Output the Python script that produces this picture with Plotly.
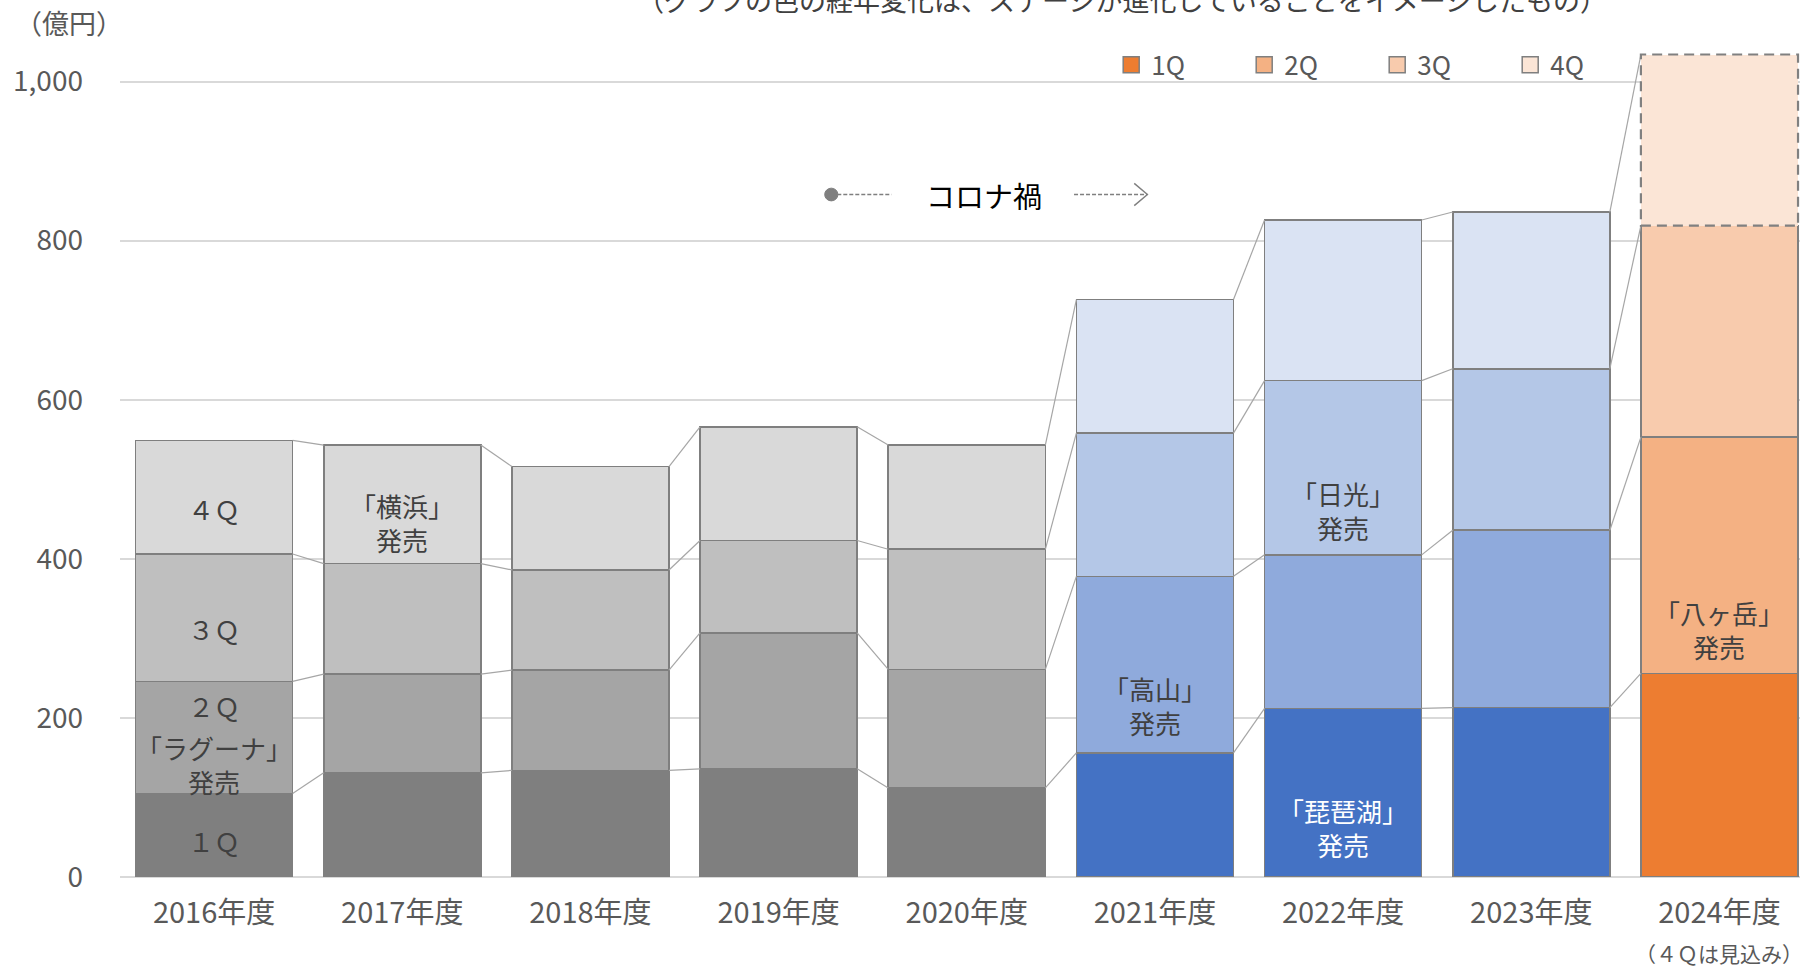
import plotly.graph_objects as go

# ---------------- data ----------------
years = ["2016年度", "2017年度", "2018年度", "2019年度", "2020年度",
         "2021年度", "2022年度", "2023年度", "2024年度"]
q1 = [105, 131, 134, 136, 112, 156, 212, 213, 256]
q2 = [141, 124, 126, 171, 149, 222, 193, 223, 297]
q3 = [160, 139, 126, 116, 151, 180, 219, 203, 266]
q4 = [143, 149, 130, 143, 131, 168, 202, 197, 215]
quarter_names = ["1Q", "2Q", "3Q", "4Q"]
era = ["gray", "gray", "gray", "gray", "gray", "blue", "blue", "blue", "orange"]

y_ticks = [0, 200, 400, 600, 800, 1000]
y_ticktext = ["0", "200", "400", "600", "800", "1,000"]

# in-bar notes: (year index, value-axis level, text, color)
notes = [
    (0, 463, "４Ｑ", "#404040"),
    (0, 312, "３Ｑ", "#404040"),
    (0, 216, "２Ｑ", "#404040"),
    (0, 141, "「ラグーナ」<br>発売", "#404040"),
    (0, 46, "１Ｑ", "#404040"),
    (1, 446, "「横浜」<br>発売", "#404040"),
    (5, 215, "「高山」<br>発売", "#404040"),
    (6, 461, "「日光」<br>発売", "#404040"),
    (6, 62, "「琵琶湖」<br>発売", "#ffffff"),
    (8, 311, "「八ヶ岳」<br>発売", "#404040"),
]

# ---------------- styles ----------------
palette = {
    "gray":   ["#7f7f7f", "#a5a5a5", "#bfbfbf", "#d9d9d9"],
    "blue":   ["#4472c4", "#8faadc", "#b4c7e7", "#dae3f3"],
    "orange": ["#ed7d31", "#f4b183", "#f8cbad", "#fbe5d6"],
}
FONT = "Noto Sans CJK JP"
TXT = "#595959"
BORDER = "#7f7f7f"
W = 0.835
NOTE_SIZE = 26

xs = list(range(len(years)))
series = [q1, q2, q3, q4]
n = len(years)

# cumulative tops
cums = []
run = [0] * n
for s in series:
    run = [a + b for a, b in zip(run, s)]
    cums.append(run)

fig = go.Figure()

for qi, s in enumerate(series):
    colors = [palette[e][qi] for e in era]
    lw = [1.6] * n
    if qi == 3:
        lw[-1] = 0  # forecast segment drawn with dashed outline
    fig.add_trace(go.Bar(
        x=xs, y=s, width=W, name=quarter_names[qi], showlegend=False,
        marker=dict(color=colors, line=dict(color=BORDER, width=lw)),
        hoverinfo="skip",
    ))

# connector lines
for c in cums:
    lx, ly = [], []
    for i in range(n - 1):
        lx += [i + W / 2, i + 1 - W / 2, None]
        ly += [c[i], c[i + 1], None]
    fig.add_trace(go.Scatter(x=lx, y=ly, mode="lines", showlegend=False,
                             line=dict(color="#a6a6a6", width=1.2), hoverinfo="skip"))

# legend-only entries (orange set)
for qi, name in enumerate(quarter_names):
    fig.add_trace(go.Scatter(
        x=[None], y=[None], mode="markers", name=name,
        marker=dict(symbol="square", size=16, color=palette["orange"][qi],
                    line=dict(color=BORDER, width=1.5)),
    ))

shapes = []
# dashed outline of forecast 4Q
shapes.append(dict(type="rect", xref="x", yref="y",
                   x0=n - 1 - W / 2, x1=n - 1 + W / 2, y0=cums[2][-1], y1=cums[3][-1],
                   line=dict(color="#808080", width=2.2, dash="10px,6px"), fillcolor="rgba(0,0,0,0)"))

# コロナ禍 marker
corona_y = 858
shapes.append(dict(type="line", xref="x", yref="y", x0=3.28, x1=3.60, y0=corona_y, y1=corona_y,
                   line=dict(color="#7f7f7f", width=1.4, dash="4px,2px")))
shapes.append(dict(type="circle", xref="x", yref="y", x0=3.245, x1=3.315,
                   y0=corona_y - 8, y1=corona_y + 8,
                   fillcolor="#7f7f7f", line=dict(color="#7f7f7f", width=1)))
shapes.append(dict(type="line", xref="x", yref="y", x0=4.57, x1=4.96, y0=corona_y, y1=corona_y,
                   line=dict(color="#7f7f7f", width=1.4, dash="4px,2px")))
shapes.append(dict(type="path", xref="x", yref="y",
                   path=f"M 4.89 {corona_y + 14} L 4.96 {corona_y} L 4.89 {corona_y - 14}",
                   line=dict(color="#7f7f7f", width=1.4)))

annotations = []
for (i, yv, text, col) in notes:
    annotations.append(dict(x=i, y=yv, xref="x", yref="y", text=text,
                            showarrow=False, font=dict(family=FONT, size=NOTE_SIZE, color=col)))
annotations.append(dict(x=4.09, y=corona_y, xref="x", yref="y", text="コロナ禍", showarrow=False,
                        font=dict(family=FONT, size=29, color="#000000")))
annotations.append(dict(x=-0.0304, y=0.9805, xref="paper", yref="paper", xanchor="center", yanchor="middle",
                        text="（億円）", showarrow=False, font=dict(family=FONT, size=27, color=TXT)))
annotations.append(dict(x=0.5965, y=1.0069, xref="paper", yref="paper", yanchor="middle",
                        text="（グラフの色の経年変化は、ステージが進化していることをイメージしたもの）",
                        showarrow=False, font=dict(family=FONT, size=27, color="#404040")))
annotations.append(dict(x=n - 1, y=-0.0873, xref="x", yref="paper", yanchor="middle",
                        text="（４Ｑは見込み）", showarrow=False,
                        font=dict(family=FONT, size=21, color=TXT)))

fig.update_layout(
    width=1800, height=966,
    margin=dict(l=120, r=0, t=6, b=89),
    barmode="stack",
    plot_bgcolor="white", paper_bgcolor="white",
    font=dict(family=FONT, color=TXT),
    shapes=shapes, annotations=annotations,
    hovermode=False,
    legend=dict(orientation="h", x=0.59, xanchor="left", y=0.9323, yanchor="middle",
                entrywidth=88, font=dict(family=FONT, size=26, color=TXT),
                bgcolor="rgba(0,0,0,0)", traceorder="normal"),
    xaxis=dict(range=[-0.5, 8.428], tickvals=xs, ticktext=years, showgrid=False,
               zeroline=False, showline=False, ticks="",
               tickfont=dict(family=FONT, size=29, color=TXT), ticklabelstandoff=16),
    yaxis=dict(range=[0, 1095], tickvals=y_ticks, ticktext=y_ticktext,
               showgrid=True, gridcolor="#d9d9d9", gridwidth=1.5,
               zeroline=True, zerolinecolor="#d9d9d9", zerolinewidth=2,
               showline=False, ticks="",
               tickfont=dict(family=FONT, size=28, color=TXT), ticklabelstandoff=36),
)

fig.write_html("out.html", config={"displayModeBar": False},
               post_script="document.body.style.margin='0';document.body.style.overflow='hidden';")
